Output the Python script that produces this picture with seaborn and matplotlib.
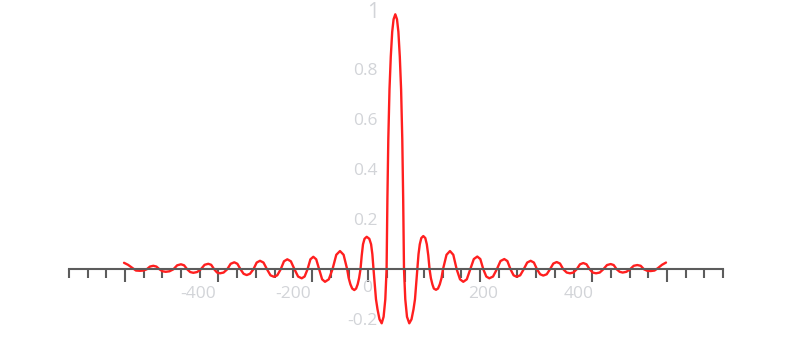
import matplotlib
matplotlib.use("Agg")
import matplotlib.pyplot as plt
import seaborn as sns

# ---- data ----
x_values = [-556.2, -547.8, -538.4, -531.0, -522.6, -515.7, -508.5, -501.6, -494.6, -488.1,
            -481.6, -475.1, -468.5, -460.6, -452.4, -444.4, -436.4, -429.9, -423.3, -417.0,
            -410.5, -402.5, -394.7, -386.7, -379.0, -372.9, -366.6, -360.5, -354.4, -346.8,
            -339.2, -331.9, -324.3, -317.8, -311.2, -304.7, -298.2, -291.3, -284.1, -277.2,
            -270.2, -262.9, -255.5, -248.2, -240.8, -233.9, -226.7, -219.8, -212.8, -205.3,
            -197.7, -190.1, -182.5, -176.4, -170.3, -164.2, -158.1, -152.0, -145.7, -139.6,
            -133.5, -125.5, -117.8, -109.8, -102.0, -94.4, -86.9,
            -83.7, -80.1, -76.3, -71.9, -68.1, -64.8, -61.8, -58.9,
            -56.3, -53.6, -50.4, -45.8, -40.3, -36.6, -33.9, -31.5,
            -26.3, -23.1, -18.9, -14.3, -10.3, -6.7, -4.0,
            -2.3, -0.4, 2.1, 4.8, 7.8, 10.7, 14.3,
            17.9, 20.8, 23.8, 26.5, 29.0, 30.9, 32.6,
            35.3, 38.9, 43.7, 48.4, 52.6, 55.7, 60.6,
            63.1, 65.8, 69.0, 73.2, 77.4, 80.6, 83.7, 86.4,
            89.1, 92.3, 95.4, 99.9, 104.1, 107.9, 111.5, 114.6,
            122.0, 129.3, 136.3, 143.4, 150.4, 157.3, 164.7, 172.0,
            179.4, 186.7, 193.1, 199.4, 205.7, 212.0, 219.8, 227.8, 235.5, 243.5,
            250.0, 256.6, 263.1, 269.6, 277.0, 284.3, 291.7, 299.0, 305.8, 312.3,
            319.0, 325.5, 332.7, 339.6, 346.6, 353.7, 360.7, 367.6, 374.8, 381.7,
            388.6, 395.8, 402.7, 409.7, 416.4, 423.1, 429.6, 436.4, 444.2, 451.7,
            459.5, 467.3, 473.6, 479.9, 486.2, 492.5, 500.3, 507.9, 515.7, 523.2,
            530.4, 537.3, 544.3, 551.4, 559.4, 566.8, 575.2, 583.6]
y_values = [0.026, 0.018, 0.005, -0.005, -0.006, -0.005, 0.0, 0.011, 0.014, 0.011,
            0.0, -0.008, -0.010, -0.008, 0.0, 0.016, 0.020, 0.016, 0.0, -0.011,
            -0.014, -0.011, 0.0, 0.018, 0.022, 0.018, 0.0, -0.013, -0.016, -0.013,
            0.0, 0.022, 0.028, 0.022, 0.0, -0.018, -0.023, -0.018, 0.0, 0.027,
            0.034, 0.027, 0.0, -0.024, -0.030, -0.024, 0.0, 0.032, 0.040, 0.032,
            0.0, -0.029, -0.036, -0.029, 0.0, 0.040, 0.050, 0.040, 0.0, -0.040,
            -0.050, -0.040, 0.0, 0.058, 0.073, 0.058, 0.0,
            -0.035, -0.060, -0.077, -0.083, -0.077, -0.060, -0.035, 0.0,
            0.055, 0.100, 0.122, 0.130, 0.122, 0.100, 0.060, 0.0,
            -0.12, -0.16, -0.20, -0.216, -0.19, -0.12, 0.0,
            0.28, 0.52, 0.72, 0.85, 0.95, 1.00, 1.02,
            1.00, 0.95, 0.85, 0.72, 0.52, 0.28, 0.0,
            -0.12, -0.19, -0.216, -0.20, -0.16, -0.12, 0.0,
            0.060, 0.100, 0.125, 0.133, 0.125, 0.100, 0.055, 0.0,
            -0.035, -0.060, -0.077, -0.082, -0.077, -0.060, -0.035, 0.0,
            0.058, 0.073, 0.058, 0.0, -0.040, -0.050, -0.040, 0.0,
            0.041, 0.051, 0.041, 0.0, -0.029, -0.036, -0.029, 0.0, 0.033, 0.041,
            0.033, 0.0, -0.024, -0.030, -0.024, 0.0, 0.027, 0.034, 0.027, 0.0,
            -0.020, -0.025, -0.020, 0.0, 0.023, 0.029, 0.023, 0.0, -0.013, -0.016,
            -0.013, 0.0, 0.020, 0.025, 0.020, 0.0, -0.013, -0.016, -0.013, 0.0,
            0.017, 0.021, 0.017, 0.0, -0.010, -0.013, -0.010, 0.0, 0.014, 0.017,
            0.014, 0.0, -0.006, -0.007, -0.005, 0.005, 0.018, 0.027]

x_tick_labels = [-400, -200, 200, 400]
y_tick_labels = [0.8, 0.6, 0.4, 0.2, -0.2]

# ---- style ----
LINE_COLOR = "#ff1f1f"
AXIS_COLOR = "#5c5c5c"
LABEL_COLOR = "#d2d4d8"

sns.set_theme(style="white")
plt.rcParams["font.family"] = ["Open Sans", "DejaVu Sans"]

fig = plt.figure(figsize=(8.0, 3.41), dpi=100)
ax = fig.add_axes([0, 0, 1, 1])
ax.set_xlim(-817.0, 865.4)
ax.set_ylim(-0.2868, 1.0772)

sns.lineplot(x=x_values, y=y_values, sort=False, estimator=None,
             color=LINE_COLOR, linewidth=1.7, ax=ax)
ax.lines[-1].set_solid_capstyle("round")
ax.lines[-1].set_solid_joinstyle("round")

# x axis through y = 0
for s in ["top", "right", "left"]:
    ax.spines[s].set_visible(False)
ax.spines["bottom"].set_position(("data", 0))
ax.spines["bottom"].set_color(AXIS_COLOR)
ax.spines["bottom"].set_linewidth(1.5)
tick_start, tick_step, n_ticks = -671.9, 39.3, 36
all_ticks = [tick_start + tick_step * k for k in range(n_ticks)]
long_idx = [3, 8, 13, 16, 18, 22, 28, 32]
ax.spines["bottom"].set_bounds(all_ticks[0], all_ticks[-1])
ax.set_xticks([all_ticks[k] for k in long_idx])
ax.set_xticks([t for k, t in enumerate(all_ticks) if k not in long_idx], minor=True)
ax.tick_params(axis="x", which="major", direction="out", length=9.4, width=1.5,
               color=AXIS_COLOR, labelbottom=False, bottom=True)
ax.tick_params(axis="x", which="minor", direction="out", length=6.3, width=1.5,
               color=AXIS_COLOR, labelbottom=False, bottom=True)

# y tick labels to the left of x = 0
ax.set_yticks(y_tick_labels)
ax.set_yticklabels([f"{v:g}" for v in y_tick_labels])
ax.spines["left"].set_position(("data", 0))
ax.tick_params(axis="y", length=0, pad=7.6, labelsize=12.5, labelcolor=LABEL_COLOR,
               left=True)

for v in x_tick_labels:
    ax.annotate(f"{v:g}", xy=(v, 0), xytext=(0, -17.8), textcoords="offset points",
                ha="center", va="center", fontsize=12.5, color=LABEL_COLOR)
ax.annotate("0", xy=(0, 0), xytext=(-15.5, -13.6), textcoords="offset points",
            ha="center", va="center", fontsize=12.5, color=LABEL_COLOR)
ax.annotate("1", xy=(0, 1), xytext=(-11.0, 4.8), textcoords="offset points",
            ha="center", va="center", fontsize=15, color=LABEL_COLOR)

ax.grid(False)
ax.set_xlabel("")
ax.set_ylabel("")
fig.savefig("out.png", dpi=100)
